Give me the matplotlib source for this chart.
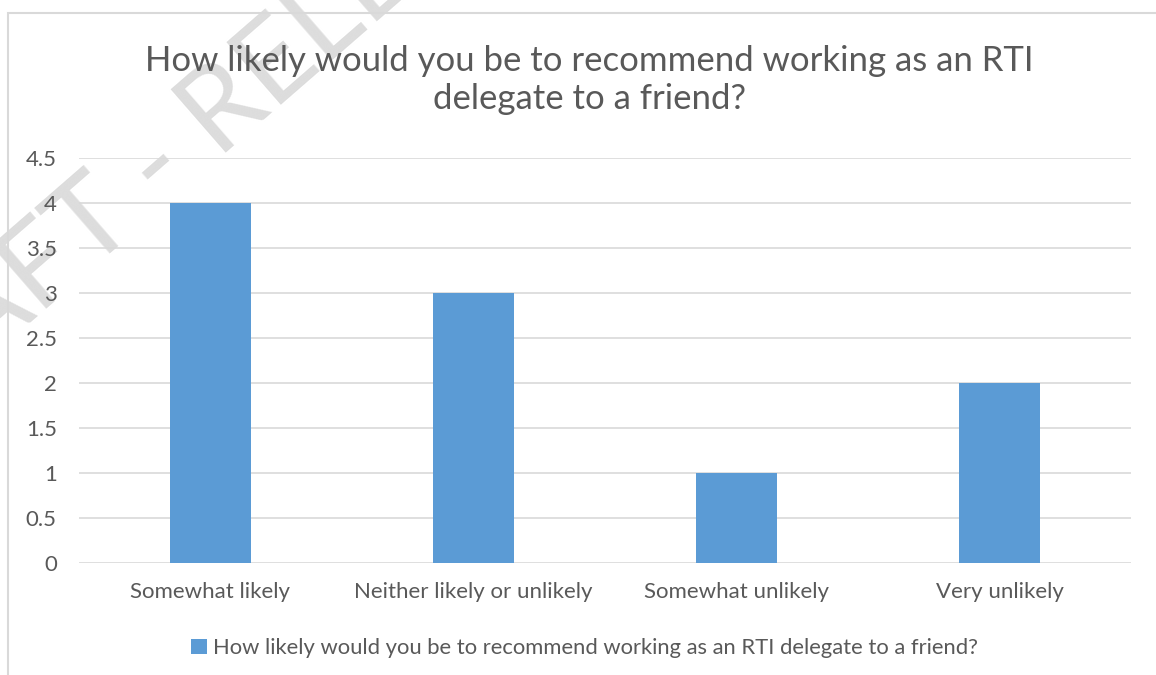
import matplotlib
matplotlib.use("Agg")
import matplotlib.pyplot as plt
import matplotlib.patches as mpatches
import numpy as np

# Данные
categories = ["Somewhat likely", "Neither likely or unlikely", "Somewhat unlikely", "Very unlikely"]
values = [4, 3, 1, 2]
yticks = [0, 0.5, 1, 1.5, 2, 2.5, 3, 3.5, 4, 4.5]
ytick_labels = ["0", "0.5", "1", "1.5", "2", "2.5", "3", "3.5", "4", "4.5"]
question = "How likely would you be to recommend working as an RTI delegate to a friend?"
title = "How likely would you be to recommend working as an RTI\ndelegate to a friend?"

plt.rcParams["font.family"] = ["Lato", "DejaVu Sans"]
text_color = "#595959"
bar_color = "#5B9BD5"
grid_color = "#d9d9d9"

W, H = 1156, 675
fig = plt.figure(figsize=(W / 100, H / 100), dpi=100)

# Рамка диаграммы
fig.patches.append(mpatches.Rectangle((8 / W, -0.1), 1.2, 1.1 - 13 / H,
                                      transform=fig.transFigure, fill=False,
                                      edgecolor=grid_color, linewidth=1.5, zorder=0))

ax = fig.add_axes([79 / W, 112 / H, 1052 / W, 405 / H])
ax.set_zorder(3)
ax.set_facecolor("none")
x = np.arange(len(categories))
ax.bar(x, values, width=0.31, color=bar_color, zorder=3, label=question)
ax.set_xlim(-0.5, len(categories) - 0.5)
ax.set_ylim(0, 4.5)
ax.set_yticks(yticks)
ax.set_yticklabels(ytick_labels)
ax.set_xticks(x)
ax.set_xticklabels(categories)
ax.tick_params(axis="y", length=0, pad=16, labelsize=16, labelcolor=text_color)
ax.tick_params(axis="x", length=0, pad=14, labelsize=16, labelcolor=text_color)
for s in ax.spines.values():
    s.set_visible(False)
ax.grid(axis="y", color=grid_color, linewidth=1.2, zorder=0)
ax.set_axisbelow(True)

fig.text(0.51, 1 - 80 / H, title, ha="center", va="center", fontsize=25,
         color=text_color, linespacing=1.25, zorder=5)

ax.legend(loc="center", bbox_to_anchor=(0.506, 1 - 648 / H), bbox_transform=fig.transFigure,
          frameon=False, fontsize=15.8, labelcolor=text_color, handlelength=0.7,
          handleheight=0.7, handletextpad=0.3)

# Водяной знак
fig.text(-0.1234, 1 - 473 / H, "DRAFT - RELEASE", rotation=41, rotation_mode="anchor",
         ha="left", va="baseline", fontsize=84, fontweight="normal",
         color="#d9d9d9", zorder=2, alpha=0.9)

fig.savefig("out.png", dpi=100)
